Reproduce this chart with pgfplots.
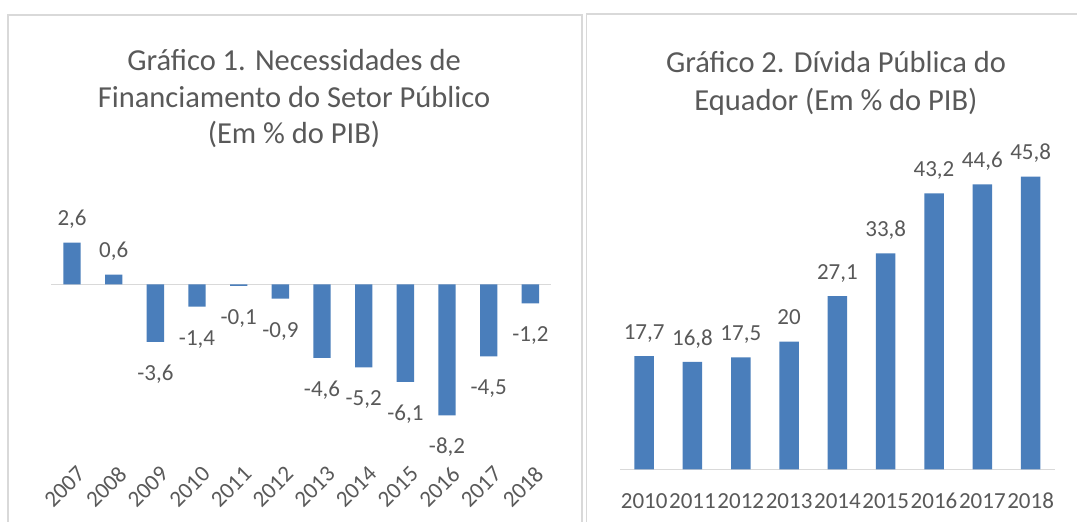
\documentclass[border=0pt]{standalone}
\usepackage{fontspec}
\setmainfont{Carlito}
\usepackage{pgfplots}
\usepackage{pgfplotstable}
\pgfplotsset{compat=1.18}
\definecolor{barblue}{HTML}{4A7EBB}
\definecolor{txtgray}{HTML}{595959}
\definecolor{linegray}{HTML}{D9D9D9}

% Grafico 1: positive and negative values
\pgfplotstableread{
x y lbl
0 2.6 2,6
1 0.6 0,6
}\dataApos

\pgfplotstableread{
x y lbl
2 -3.6 -3,6
3 -1.4 -1,4
4 -0.1 -0,1
5 -0.9 -0,9
6 -4.6 -4,6
7 -5.2 -5,2
8 -6.1 -6,1
9 -8.2 -8,2
10 -4.5 -4,5
11 -1.2 -1,2
}\dataAneg

\pgfplotstableread{
x y lbl
0 17.7 17,7
1 16.8 16,8
2 17.5 17,5
3 20 20
4 27.1 27,1
5 33.8 33,8
6 43.2 43,2
7 44.6 44,6
8 45.8 45,8
}\dataB

\pgfplotsset{
  panel/.style={
    scale only axis,
    anchor=south west,
    axis line style={draw=none},
    tick style={draw=none},
    major tick length=0pt,
    ytick=\empty,
    clip=false,
    xticklabel style={font=\fontsize{23}{28}\selectfont, text=txtgray},
  },
  barlabels/.style={
    point meta=explicit symbolic,
    nodes near coords={\pgfplotspointmeta},
    every node near coord/.append style={font=\fontsize{23}{28}\selectfont,
      text=txtgray, inner sep=0pt, text height=38.3pt, text depth=16.7pt, anchor=#1},
  },
}

\begin{document}
\begin{tikzpicture}
\fill[white] (0pt,0pt) rectangle (1077pt,522pt);
\useasboundingbox (0pt,0pt) rectangle (1077pt,522pt);

% panel borders
\draw[linegray, line width=1.5pt] (8pt,0pt) -- (8pt,507pt) -- (582pt,507pt) -- (582pt,0pt);
\draw[linegray, line width=1.5pt] (586.5pt,0pt) -- (586.5pt,508pt) -- (1077pt,508pt);

% titles
\begin{scope}[every node/.style={font=\fontsize{30.5}{37}\selectfont, text=txtgray, anchor=base, inner sep=0pt}]
\node at (294pt,451pt) {Gráfico 1. Necessidades de};
\node at (294pt,414pt) {Financiamento do Setor Público};
\node at (294pt,378pt) {(Em \% do PIB)};
\node at (836pt,449pt) {Gráfico 2. Dívida Pública do};
\node at (836pt,411.5pt) {Equador (Em \% do PIB)};
\end{scope}

\begin{axis}[panel,
  at={(51.2pt,93.7pt)},
  width=500pt, height=192pt,
  xmin=-0.5, xmax=11.5, ymin=-9, ymax=3,
  xtick={-0.18,0.82,1.82,2.82,3.82,4.82,5.82,6.82,7.82,8.82,9.82,10.82},
  xticklabels={2007,2008,2009,2010,2011,2012,2013,2014,2015,2016,2017,2018},
  xticklabel style={anchor=center, yshift=-58.7pt, rotate=45},
]
\addplot[linegray, line width=1.3pt, no marks, forget plot] coordinates {(-0.5,0) (11.5,0)};
\addplot[ybar, bar shift=0pt, bar width=17.4pt, fill=barblue, draw=none, barlabels=south] table[x=x, y=y, meta=lbl] {\dataApos};
\addplot[ybar, bar shift=0pt, bar width=17.4pt, fill=barblue, draw=none, barlabels=north] table[x=x, y=y, meta=lbl] {\dataAneg};
\end{axis}

\begin{axis}[panel,
  at={(620pt,52.7pt)},
  width=434.8pt, height=319.45pt,
  xmin=-0.5, xmax=8.5, ymin=0, ymax=50,
  xtick={0,...,8},
  xticklabels={2010,2011,2012,2013,2014,2015,2016,2017,2018},
  xticklabel style={anchor=base, yshift=-39pt},
]
\addplot[linegray, line width=1.3pt, no marks, forget plot] coordinates {(-0.5,0) (8.5,0)};
\addplot[ybar, bar shift=0pt, bar width=19.5pt, fill=barblue, draw=none, barlabels=south] table[x=x, y=y, meta=lbl] {\dataB};
\end{axis}
\end{tikzpicture}
\end{document}
